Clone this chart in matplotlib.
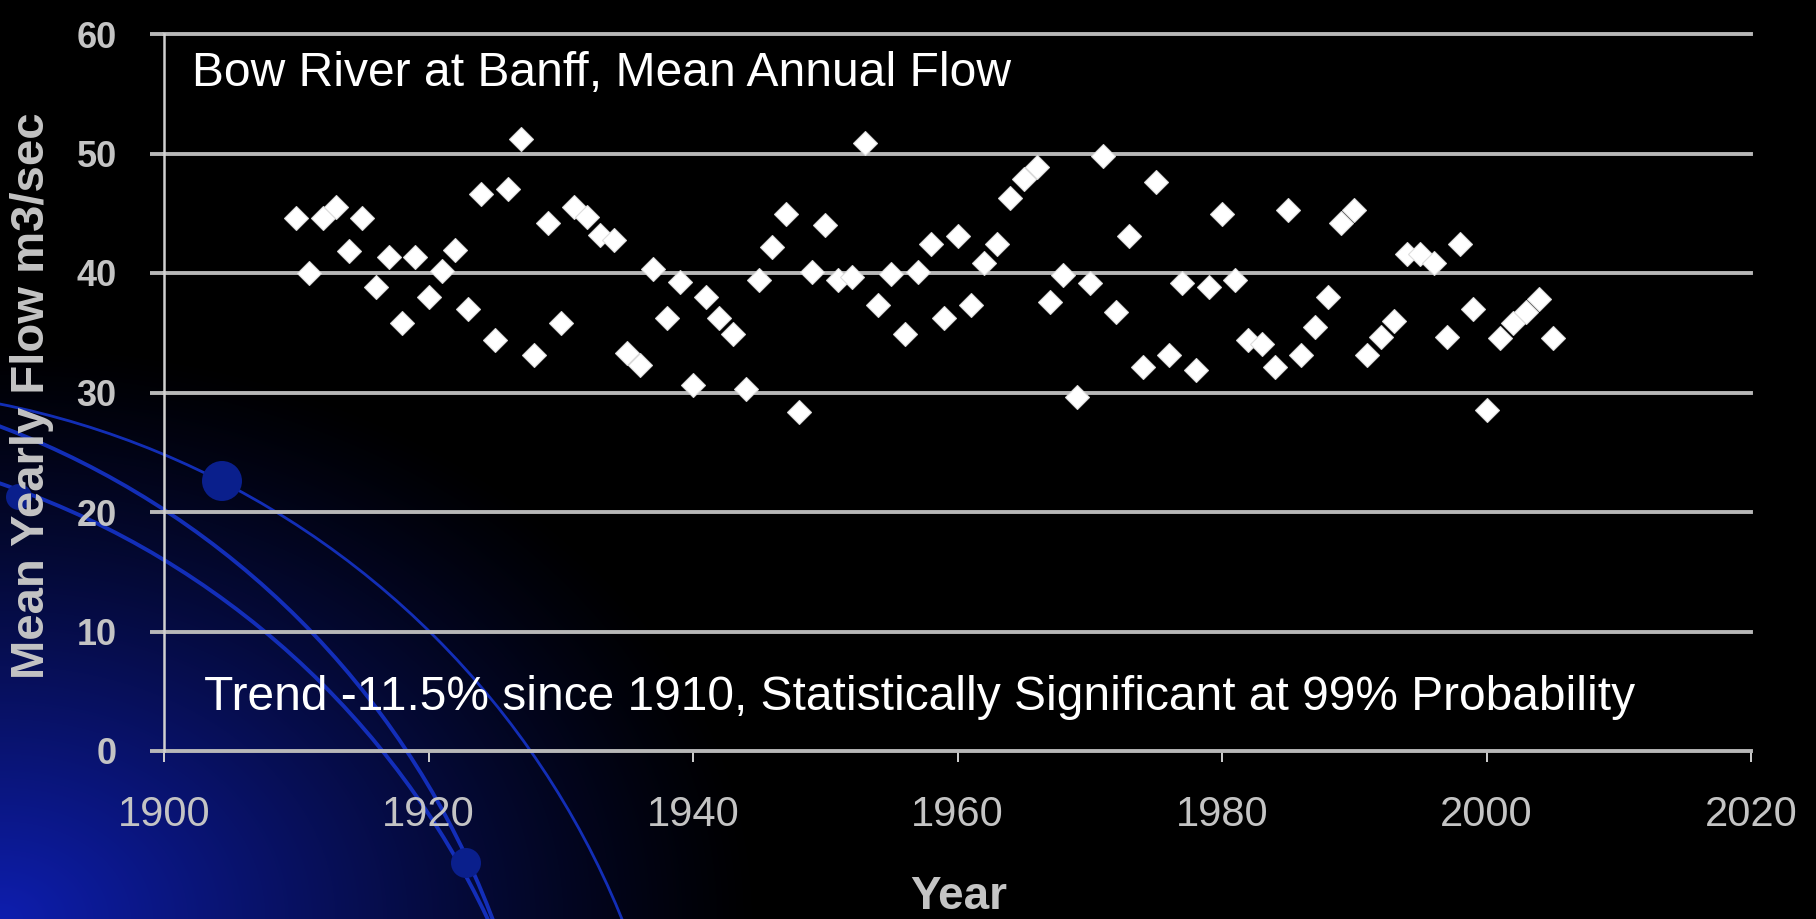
import numpy as np
import matplotlib
matplotlib.use('Agg')
import matplotlib.pyplot as plt
from matplotlib.patches import Circle

# mean annual flow, Bow River at Banff
years = list(range(1910, 2006))
flow = [
    44.6, 40.0, 44.6, 45.5, 41.85, 44.6, 38.8, 41.35, 35.8, 41.35,   # 1910s
    38.0, 40.2, 41.9, 37.0, 46.65, 34.4, 47.0, 51.25, 33.1, 44.2,    # 1920s
    35.8, 45.5, 44.7, 43.2, 42.75, 33.3, 32.3, 40.3, 36.2, 39.25,    # 1930s
    30.6, 38.0, 36.2, 34.9, 30.3, 39.45, 42.2, 44.9, 28.4, 40.1,     # 1940s
    44.0, 39.4, 39.7, 50.9, 37.3, 39.9, 34.9, 40.1, 42.45, 36.2,     # 1950s
    43.1, 37.3, 40.85, 42.45, 46.3, 47.9, 48.9, 37.6, 39.8, 29.6,    # 1960s
    39.2, 49.8, 36.75, 43.1, 32.15, 47.6, 33.1, 39.2, 31.9, 38.8,    # 1970s
    44.9, 39.45, 34.4, 34.1, 32.15, 45.25, 33.1, 35.5, 37.95, 44.2,  # 1980s
    45.25, 33.1, 34.65, 36.0, 41.6, 41.6, 40.8, 34.65, 42.45, 37.0,  # 1990s
    28.5, 34.6, 35.8, 36.75, 37.85, 34.6,                            # 2000s
]
x_ticks = [1900, 1920, 1940, 1960, 1980, 2000, 2020]
y_ticks = [0, 10, 20, 30, 40, 50, 60]

title = "Bow River at Banff, Mean Annual Flow"
trend_note = "Trend -11.5% since 1910, Statistically Significant at 99% Probability"

W, H = 1816, 919
GRID = '#b8b8b8'
LABEL = '#c4c4c4'
SANS = ['Liberation Sans', 'DejaVu Sans']

fig = plt.figure(figsize=(W / 100, H / 100), dpi=100, facecolor='black')

# slide background: blue glow in the lower left with arcs and dots
bg = fig.add_axes([0, 0, 1, 1], zorder=0)
bg.set_xlim(0, W)
bg.set_ylim(H, 0)
bg.axis('off')
gx, gy = np.meshgrid(np.arange(0, W, 4), np.arange(0, H, 4))
t = np.sqrt((gx / 760.0) ** 2 + ((H - gy) / 580.0) ** 2)
glow = np.clip(1 - t, 0, 1) ** 1.2
img = np.zeros(gx.shape + (3,))
img[..., 0] = 14 / 255 * glow
img[..., 1] = 30 / 255 * glow
img[..., 2] = 175 / 255 * glow
bg.imshow(img, extent=(0, W, H, 0), aspect='auto', interpolation='bilinear')

for (cx, cy, r, lw) in [(-167.5, 1239.4, 852, 2.0),
                        (-298.1, 1217.1, 845, 2.8),
                        (-270.1, 1276.7, 838, 2.8)]:
    bg.add_patch(Circle((cx, cy), r, fill=False, edgecolor='#1533c8',
                        linewidth=lw, alpha=0.9))
for (cx, cy, r) in [(222, 481, 20), (19, 497, 13), (466, 863, 15)]:
    bg.add_patch(Circle((cx, cy), r, facecolor='#0a1f8c', edgecolor='none'))

# chart
x0, x1 = 164, 1751
y0, y1 = 751, 34
ax = fig.add_axes([x0 / W, 1 - y0 / H, (x1 - x0) / W, (y0 - y1) / H], zorder=1)
ax.set_facecolor('none')

ax.plot(years, flow, linestyle='none', marker='D', markersize=12,
        color='white', markeredgecolor='#dddddd', markeredgewidth=0.8, zorder=3)

ax.set_xlim(1900, 2020)
ax.set_ylim(0, 60)
ax.set_xticks(x_ticks)
ax.set_yticks(y_ticks)
ax.yaxis.grid(True, color=GRID, linewidth=2.8)
for gl in ax.get_ygridlines():
    gl.set_clip_on(False)
ax.set_axisbelow(True)

for side in ['top', 'right', 'bottom']:
    ax.spines[side].set_visible(False)
ax.spines['left'].set_color('#d0d0d0')
ax.spines['left'].set_linewidth(1.8)

ax.tick_params(axis='y', direction='out', length=10, width=2.8, color=GRID,
               pad=24, labelcolor=LABEL)
ax.tick_params(axis='x', direction='out', length=8, width=1.4, color='#d0d0d0',
               pad=24, labelcolor=LABEL)
for lbl in ax.get_yticklabels():
    lbl.set_family(SANS)
    lbl.set_fontweight('bold')
    lbl.set_fontsize(26)
for lbl in ax.get_xticklabels():
    lbl.set_family(SANS)
    lbl.set_fontsize(30)

fig.text(32 / W, 1 - 396 / H, 'Mean Yearly Flow m3/sec', rotation=90,
         ha='center', va='center', color=LABEL, fontsize=34,
         fontweight='bold', family=SANS)
fig.text(959 / W, 1 - 897 / H, 'Year', ha='center', va='center',
         color=LABEL, fontsize=33, fontweight='bold', family=SANS)

fig.text(192 / W, 1 - 74 / H, title, ha='left', va='center',
         color='white', fontsize=34.6, family=SANS, zorder=5)
fig.text(204 / W, 1 - 697 / H, trend_note, ha='left', va='center',
         color='white', fontsize=34.5, family=SANS, zorder=5)

fig.savefig('out.png', dpi=100, facecolor='black')
